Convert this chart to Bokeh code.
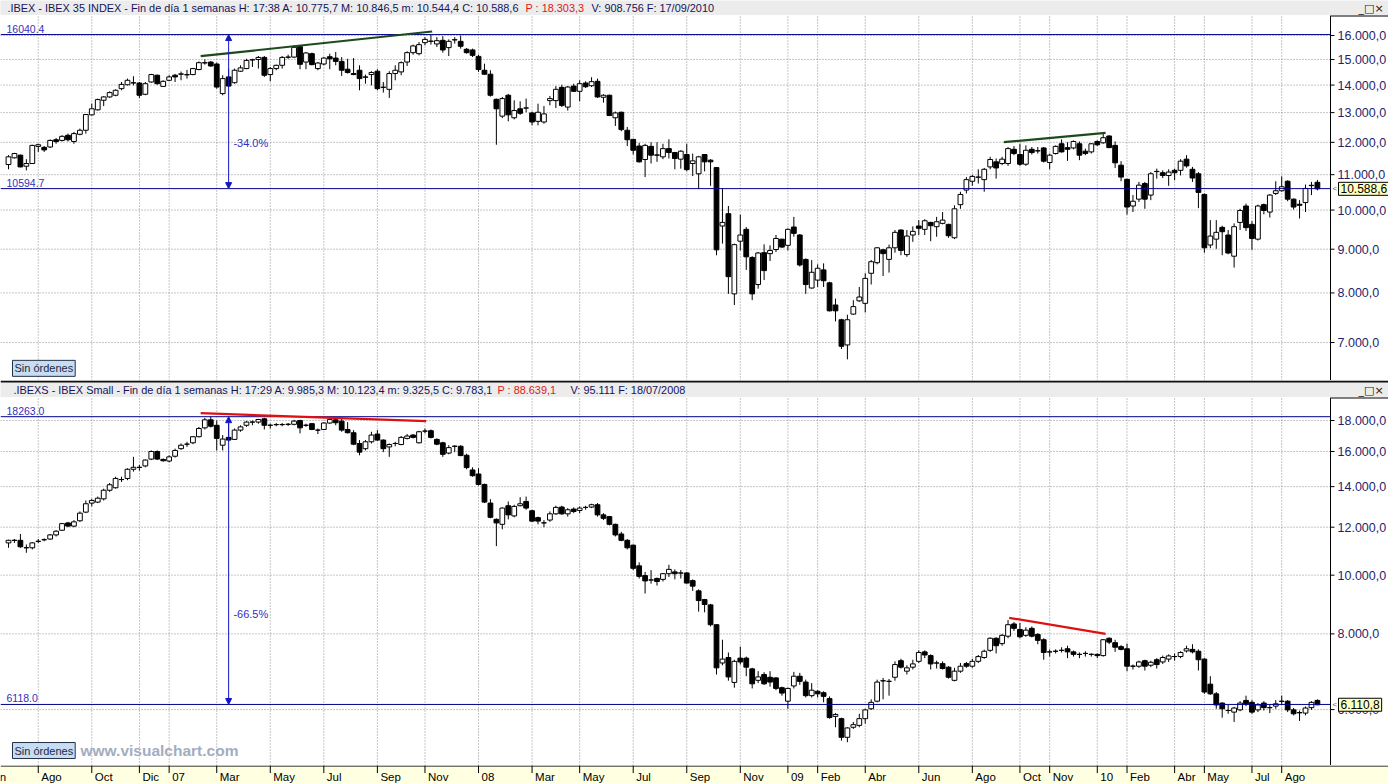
import numpy as np
import pandas as pd
from bokeh.plotting import figure
from bokeh.layouts import column
from bokeh.models import (Range1d, Span, Label, Arrow, NormalHead, ColumnDataSource, LogScale)
from bokeh.core.properties import value
from bokeh.embed import file_html
from bokeh.resources import INLINE

# ---------------------------------------------------------------- data
first_week = "2006-06-30"   # weekly candles (Friday closes) up to 17/09/2010

ibex_open = [11304,11510,11593,11253,11335,11871,11840,11851,12084,12062,
12230,12028,12263,12397,12922,13098,13440,13561,13622,13866,
14013,14078,14078,13658,14117,14377,13951,14182,14377,14415,
14390,14403,14598,14860,14896,14818,13683,14312,14091,14533,
14637,14980,15000,15083,14403,14637,14766,15090,15097,15528,
14896,15236,14637,14818,15111,15055,14922,14611,14442,14571,
14312,14403,14533,13915,13841,14442,14507,14896,15278,15236,
15694,15750,15639,15792,15486,15810,15750,15417,15389,15125,
14571,14415,13475,12877,13622,12821,13134,13159,12989,12698,
12676,13427,13427,13915,13195,13963,13768,14078,13976,14143,
13549,13622,12821,13012,12397,12095,11881,11458,11871,11600,
11541,11799,11675,11469,11613,11335,11026,11613,11438,11211,
9580,9903,7980,9196,9494,8802,8183,8916,8893,8992,
9247,9094,9554,9350,8756,8107,8282,8512,8221,7745,
7443,6955,7557,7832,7779,8435,8679,8985,8756,9034,
9477,8870,9350,9580,9494,9673,9562,9648,9622,9281,
10147,10553,10807,10925,10854,11232,11386,11335,11335,11778,
11613,11314,11778,11730,11820,11366,11644,11954,11830,11820,
11954,11717,11696,12028,11985,12207,11902,11284,10863,10110,
10298,10741,10412,11090,11057,10976,11129,11129,11469,11160,
11026,10430,9102,9247,9545,9350,8832,9673,10110,9622,
9247,10147,9946,10458,10534,10807,10298,10157,10204,10680,
10775.7]
ibex_high = [11593,11665,11613,11469,11923,11954,11881,12095,12140,12230,
12285,12340,12453,12955,13317,13500,13585,13768,13841,14117,
14247,14338,14117,14117,14429,14403,14182,14377,14429,14520,
14585,14663,14922,15000,14935,14870,14377,14637,14637,14766,
15028,15028,15140,15140,14700,14792,15140,15194,15583,15583,
15306,15278,14896,15097,15236,15306,15097,15028,15055,14766,
14403,14533,14611,14117,14533,14766,14922,15333,15611,15722,
15930,16040.4,15930,15972,15833,15930,16000,15472,15444,15194,
14831,14571,13500,13561,13671,13439,13402,13500,13037,13317,
13232,13598,13963,14013,13963,14052,14182,14143,14299,14247,
13658,13646,13037,13037,12508,12117,11985,11954,12005,12005,
11954,12100,11696,11747,11954,11644,11572,11613,11469,11232,
10600,10110,9136,9878,9554,8832,8931,9119,9094,9350,
9247,9520,9818,9375,8779,8741,8641,8664,8244,7879,
7463,7544,7846,8130,8435,8741,9051,9009,9111,9477,
9494,9477,9570,9733,9759,9690,9818,9946,9639,10129,
10506,10929,10995,11160,11201,11541,11490,11541,11851,11881,
11954,11902,11851,11851,11851,11644,11902,12095,12005,12062,
12028,11799,11975,12062,12319,12230,12028,11407,10882,10412,
10788,10788,11077,11180,11129,11160,11180,11469,11593,11232,
11077,10458,9733,9733,9588,9477,9648,10034,10176,9707,
10147,10176,10440,10807,10948,10835,10317,10270,10713,10788,
10846.5]
ibex_low = [11160,11490,11220,11129,11330,11696,11696,11820,11954,12028,
12028,11954,12230,12285,12900,13073,13232,13525,13585,13805,
13988,13988,13525,13622,14091,14013,13927,14143,14117,14182,
14247,14377,14571,14792,14700,13866,13622,13927,14052,14507,
14611,14700,14637,14312,14143,14571,14637,15028,15055,14611,
14611,14766,14571,14766,14611,14766,14351,14442,14377,13805,
14052,13988,13805,13720,13525,14182,14377,14740,15194,15167,
15583,15611,15514,15278,15139,15653,15444,15236,15097,14507,
14403,13573,11923,12810,12698,12765,12922,13012,12564,12564,
12620,13256,13159,13195,13073,13744,13402,13890,13927,13525,
13354,12877,12542,12363,11881,11613,11366,10929,11335,11386,
11469,11490,11160,11180,11098,10958,10581,11098,10675,8855,
9136,7980,7745,8970,8512,7846,8092,8282,8718,8931,
9034,8970,9307,8588,7980,8092,8130,8130,7611,7410,
6880,6690,7544,7812,7591,8183,8641,8374,8450,8916,
8855,8817,9179,9350,9350,9196,9307,9622,9281,9247,
10034,10458,10675,10741,10506,11160,10883,11284,11263,11593,
11263,11263,11613,11644,11366,11160,11613,11675,11417,11778,
11438,11593,11644,11881,11954,11820,11201,10807,9878,9946,
10222,10034,10270,10882,10901,10675,10835,10976,11211,10788,
10053,8916,9026,9009,8855,8878,8565,9477,9452,8985,
9213,9886,9801,10412,10506,10241,10016,9776,9946,10412,
10544.4]
ibex_close = [11541,11644,11232,11335,11902,11923,11758,12062,12028,12196,
12084,12285,12397,12933,13134,13464,13561,13720,13805,14026,
14182,14090,13622,14052,14403,14052,14143,14312,14312,14429,
14403,14637,14870,14870,14740,13927,14247,13963,14571,14663,
14961,14990,15083,14377,14637,14766,15083,15097,15500,14805,
15264,14792,14857,15055,15028,14922,14571,14481,14403,14247,
14300,14481,13866,13920,14442,14571,14870,15278,15556,15611,
15833,15760,15778,15389,15750,15820,15542,15278,15167,14598,
14415,13622,13134,13500,12922,13073,12978,13165,12676,13012,
12955,13500,13841,13256,13927,13768,14052,13939,14130,13561,
13622,12900,12989,12419,12084,11747,11386,11902,11593,11593,
11799,11675,11490,11717,11150,11417,11541,11386,11386,8985,
9673,8359,9111,9350,8817,7980,8908,8496,8970,9264,
9051,9494,9392,8626,8183,8458,8550,8267,7624,7624,
6930,7443,7711,7913,8320,8702,9034,8893,9034,9418,
8970,9324,9443,9520,9716,9588,9690,9733,9333,10034,
10430,10854,10948,10929,11160,11458,11201,11469,11799,11644,
11314,11747,11675,11727,11407,11593,11871,11696,11778,12028,
11593,11644,11954,11923,12151,11830,11356,10929,10082,10241,
10694,10298,11026,11098,10976,11077,11057,11407,11263,10901,
10487,9034,9324,9418,9434,8908,9562,9988,9537,9264,
10110,9988,10412,10534,10647,10298,10082,10129,10600,10690,
10588.6]

small_open = [11305,11410,11416,11100,11097,11370,11440,11472,11653,11861,
12197,12049,12296,12707,13151,13201,13365,13809,13941,14380,
14442,14955,15060,15145,15544,16000,15525,15430,15715,16172,
16450,16538,16925,17505,18046,17677,16387,16882,16753,17355,
17677,17890,17892,18115,17680,17720,17720,17742,17742,18000,
17680,17785,17355,17398,17828,18046,17957,17398,17183,16495,
16172,16602,17097,16710,16280,16495,16430,16817,17032,16538,
17290,17312,16753,16538,15905,16320,16323,15772,14917,14689,
14119,13151,12362,12131,13020,12526,13020,13234,12773,12444,
12200,12329,12625,12954,12625,12855,12789,12935,12954,13069,
12576,12493,12131,11694,11416,11208,10361,9985.3,9820,9875,
9841,10056,10125,10080,10084,9795,9421,9114,8932,8284,
7163,7313,6652,7295,7295,7004,6705,6855,6784,6767,
6520,6194,6564,6811,6661,6326,6432,6397,6256,5847,
5796,5400,5610,5650,5796,6018,6194,6690,6680,6784,
7225,6943,7049,7207,7471,7366,7160,7145,7049,6705,
6943,7145,7075,7207,7313,7515,7868,7709,7930,8307,
8136,7956,8170,7982,7824,7470,7488,7515,7560,7471,
7400,7427,7402,7401,7366,7868,7736,7621,7560,7078,
7075,7225,7101,7251,7190,7269,7340,7339,7498,7542,
7489,7269,6608,6370,6150,5980,5942,5993,6212,6167,
5993,6150,6045,6079,6190,6194,5993,5930,5920,6044,
6212]
small_high = [11444,11472,11694,11236,11333,11472,11500,11694,11861,12197,
12246,12329,12740,13283,13365,13481,13891,14195,14537,14537,
15012,15677,15202,15525,16065,16065,15582,15772,16172,16495,
16602,16968,17570,18184,18263,18000,17032,17785,17462,17677,
17957,18000,18115,18184,17785,17828,17828,17828,18046,18046,
17785,17828,17462,17892,18184,18184,18115,17892,17355,16710,
16710,17247,17355,16753,16495,16602,16968,17097,17097,17312,
17462,17398,16817,16602,16387,16387,16387,15867,15069,15012,
14157,13349,12411,12938,13234,13069,13447,13481,12822,12493,
12329,12740,13020,13020,12904,12938,12987,13020,13118,13151,
12658,12526,12164,11792,11472,11236,10499,10123.4,10194,9909,
10084,10403,10222,10194,10125,9841,9477,9137,8966,8284,
7824,7454,7251,7621,7339,7031,6943,6916,6943,6784,
6546,6520,6925,6899,6723,6635,6458,6432,6308,5920,
5818,5610,5725,5905,6018,6238,6723,6767,6740,7207,
7278,7101,7251,7515,7515,7401,7225,7207,7075,7031,
7163,7190,7278,7383,7533,7894,7894,8000,8432,8364,
8341,8205,8228,8023,7868,7542,7542,7604,7648,7507,
7454,7489,7427,7427,7841,7894,7824,7665,7709,7119,
7225,7251,7225,7295,7366,7401,7427,7489,7648,7692,
7542,7295,6811,6414,6167,6106,6062,6194,6326,6220,
6150,6194,6106,6220,6326,6220,6035,5978,6071,6194,
6238]
small_low = [11097,11305,11097,10888,11027,11305,11375,11444,11583,11833,
12000,12000,12246,12658,12987,13151,13283,13727,13891,14252,
14347,14822,14879,15069,15487,15487,15392,15354,15639,16108,
16280,16452,16882,17398,17527,16065,16065,16602,16710,17247,
17570,17677,17785,17398,17462,17613,17613,17635,17677,17140,
17570,17355,17097,17355,17785,17677,17247,17140,16387,15772,
16065,16495,16667,15962,15677,16323,16387,16753,16817,16495,
17140,16817,16387,15677,15829,15962,15715,14955,14537,14062,
13151,12411,11166,11903,12362,12460,12987,12822,12246,12131,
12000,12246,12576,12576,12493,12658,12658,12822,12904,12493,
12329,12082,11583,11375,11027,10194,9875,9325.5,9682,9614,
9761,9932,9841,9875,9682,9421,8705,8682,8228,6855,
7101,6696,6520,7119,6811,6502,6635,6590,6546,6458,
6326,6018,6502,6590,6282,6282,6282,6167,5796,5610,
5333,5300,5575,5610,5686,5993,6167,6238,6326,6696,
7013,6855,6987,7163,7295,6987,7013,6987,6749,6679,
6899,7031,7031,7163,7278,7471,7427,7648,7868,8091,
7868,7912,7894,7692,7251,7339,7427,7454,7295,7339,
7295,7339,7339,7295,7339,7692,7471,7515,6943,6987,
7031,6960,7049,7013,7137,7190,7225,7295,7454,7427,
6960,6370,6344,6018,5818,5905,5725,5963,6079,5905,
5942,5978,5920,6018,6106,5942,5869,5747,5869,5993,
6100]
small_close = [11416,11420,11138,11097,11305,11375,11444,11653,11819,12164,
12049,12246,12658,13118,13283,13398,13809,14100,14442,14385,
14955,15069,15069,15487,16000,15544,15449,15677,16065,16387,
16452,16925,17462,18046,17613,16817,16774,16710,17355,17570,
17892,17892,18069,17677,17677,17720,17725,17742,17957,17505,
17677,17398,17355,17828,18069,17849,17355,17183,16452,15962,
16602,17032,16710,16172,16430,16495,16882,16968,16882,17247,
17290,16882,16452,15829,16237,16323,15753,15050,14594,14119,
13201,12460,12197,12904,12576,12987,13118,12904,12280,12280,
12197,12625,12938,12625,12822,12740,12904,12938,13069,12576,
12411,12131,11653,11416,11097,10263,9955,9783.1,9818,9761,
10056,10222,10056,10084,9705,9591,9080,8944,8284,7031,
7269,6793,7207,7190,7049,6617,6793,6617,6661,6502,
6388,6502,6811,6679,6326,6458,6370,6309,5820,5890,
5400,5595,5665,5796,5993,6167,6661,6696,6679,7119,
7049,7031,7137,7454,7383,7137,7163,7013,6784,6943,
7075,7075,7207,7339,7489,7868,7648,7956,8284,8170,
7912,8114,7930,7806,7454,7471,7489,7515,7471,7401,
7401,7427,7401,7366,7824,7753,7604,7542,7075,7075,
7190,7075,7181,7119,7313,7357,7339,7454,7560,7471,
7251,6414,6370,6106,6018,5978,6035,6150,6132,5942,
6106,6044,6044,6132,6194,5993,5905,5927,6035,6167,
6110.8]

month_ticks = [(2006, 6, "Jun"), (2006, 8, "Ago"), (2006, 10, "Oct"), (2006, 12, "Dic"),
               (2007, 1, "07"), (2007, 3, "Mar"), (2007, 5, "May"), (2007, 7, "Jul"),
               (2007, 9, "Sep"), (2007, 11, "Nov"), (2008, 1, "08"), (2008, 3, "Mar"),
               (2008, 5, "May"), (2008, 7, "Jul"), (2008, 9, "Sep"), (2008, 11, "Nov"),
               (2009, 1, "09"), (2009, 2, "Feb"), (2009, 4, "Abr"), (2009, 6, "Jun"),
               (2009, 8, "Ago"), (2009, 10, "Oct"), (2009, 11, "Nov"), (2010, 1, "10"),
               (2010, 2, "Feb"), (2010, 4, "Abr"), (2010, 5, "May"), (2010, 7, "Jul"),
               (2010, 8, "Ago")]

ibex_ticks = [7000, 8000, 9000, 10000, 11000, 12000, 13000, 14000, 15000, 16000]
small_ticks = [6000, 8000, 10000, 12000, 14000, 16000, 18000]

ibex_levels = [16040.4, 10594.7]
small_levels = [18263.0, 6118.0]
ibex_pct = "-34.0%"
small_pct = "-66.5%"
measure_week = 37

# trend lines: (week index, price) end points
green_lines = [([32.3, 71.2], [15133, 16173]), ([167.3, 184.4], [12006, 12312])]
red_lines = [([32.3, 70.2], [18506, 17952]), ([168.2, 184.4], [8503, 8001])]

hdr_top = [(7, ".IBEX - IBEX 35 INDEX - Fin de día 1 semanas H: 17:38 A: 10.775,7 M: 10.846,5 m: 10.544,4 C: 10.588,6", "#14145a"),
           (525, "P : 18.303,3", "#e01818"),
           (591, "V: 908.756 F: 17/09/2010", "#14145a")]
hdr_bot = [(13, ".IBEXS - IBEX Small - Fin de día 1 semanas H: 17:29 A: 9.985,3 M: 10.123,4 m: 9.325,5 C: 9.783,1", "#14145a"),
           (497, "P : 88.639,1", "#e01818"),
           (570, "V: 95.111 F: 18/07/2008", "#14145a")]

# ---------------------------------------------------------------- layout / style
FONT = "Liberation Sans"
W = 1388
RB = 58                      # width of the price scale strip on the right
H_HDR1, H_TOP, H_HDR2, H_BOT, H_AX = 15, 365, 17, 368, 18
X0, X1 = -1.345, 222.2       # visible candle window
TOP_RANGE = (6320, 16885)
BOT_RANGE = (4851, 19645)
GRID = "#8c8c8c"
HDR_BG = "#ececec"
AX_BG = "#ffffe1"
LEVEL_LINE = "#00008b"
LEVEL_TXT = "#3030c0"
AXIS_TXT = "#1f1f6b"

dates = pd.date_range(first_week, periods=len(ibex_close), freq="W-FRI")
idx = np.arange(len(dates))
tick_idx, tick_lbl = [], []
for (yy, mm, lab) in month_ticks:
    days = pd.date_range(f"{yy}-{mm:02d}-01", periods=7, freq="D")
    first_fri = days[days.weekday == 4][0]
    tick_idx.append(int((first_fri - dates[0]).days // 7))
    tick_lbl.append(lab)

px_per_idx = (W - RB) / (X1 - X0)
XR_END = X1 + RB / px_per_idx
xr = Range1d(X0, XR_END)


def es_num(v):
    s = f"{v:,.1f}"
    return s.replace(",", "X").replace(".", ",").replace("X", ".")


def bare(h, x_range, y_range, log=False):
    kw = dict(width=W, height=h, x_range=x_range, y_range=y_range,
              x_axis_location=None, y_axis_location=None, toolbar_location=None,
              output_backend="svg", min_border=0, min_border_left=0, min_border_right=0,
              min_border_top=0, min_border_bottom=0)
    if log:
        kw["y_axis_type"] = "log"
    f = figure(**kw)
    if log:
        f.y_scale = LogScale()
    f.center = []
    f.outline_line_color = None
    return f


def header(h, pieces, sep):
    f = bare(h, Range1d(0, W), Range1d(0, h))
    f.background_fill_color = HDR_BG
    f.border_fill_color = HDR_BG
    yc = (h - (2 if sep else 0)) / 2.0 - 0.3
    if sep:
        f.add_layout(Span(location=h - 1, dimension="width", line_color="#101010", line_width=2))
    for x, t, c in pieces:
        f.add_layout(Label(x=x, y=yc, text=t, text_color=c, text_font=FONT,
                           text_font_size="10.9px", text_baseline="middle"))
    f.add_layout(Label(x=W - 30, y=yc, text="_□×", text_color="#202020", text_font="DejaVu Sans",
                       text_font_size="11px", text_baseline="middle"))
    return f


def panel(h, yrng, o, hi, lo, c, yticks):
    p = bare(h, xr, Range1d(*yrng), log=True)
    p.background_fill_color = "white"
    p.border_fill_color = "white"
    n = len(yticks)
    vis = [t for t in tick_idx if t >= X0]
    m = len(vis)
    # dotted grid
    p.segment(x0=[X0] * n, y0=yticks, x1=[X1] * n, y1=yticks,
              line_color=GRID, line_dash="1 2", line_width=1)
    p.segment(x0=vis, y0=[yrng[0]] * m, x1=vis, y1=[yrng[1]] * m,
              line_color=GRID, line_dash="1 2", line_width=1)
    # price scale on the right
    p.segment(x0=[X1], y0=[yrng[0]], x1=[X1], y1=[yrng[1]], line_color="black", line_width=1)
    p.segment(x0=[X1], y0=[yrng[1]], x1=[XR_END], y1=[yrng[1]], line_color="black", line_width=2)
    p.segment(x0=[X1] * n, y0=yticks, x1=[X1 + 4 / px_per_idx] * n, y1=yticks,
              line_color="black", line_width=1)
    p.text(x=[X1] * n, y=yticks, text=[es_num(t) for t in yticks], x_offset=7,
           text_font=value(FONT), text_font_size=value("12.5px"), text_color=AXIS_TXT,
           text_baseline="middle", text_align="left")
    # candles
    top = [max(a, b) for a, b in zip(o, c)]
    bot = [min(a, b) for a, b in zip(o, c)]
    col = ["white" if b >= a else "black" for a, b in zip(o, c)]
    src = ColumnDataSource(dict(x=idx, o=o, h=hi, l=lo, c=c, top=top, bot=bot, col=col))
    p.segment(x0="x", y0="l", x1="x", y1="h", source=src, line_color="black", line_width=1)
    p.vbar(x="x", width=0.8, top="top", bottom="bot", source=src, fill_color="col",
           line_color="black", line_width=1)
    return p


def decorate(p, levels, pct, pct_y, lines, line_color, last, box_y, wm):
    p.segment(x0=[X0] * len(levels), y0=levels, x1=[X1] * len(levels), y1=levels,
              line_color=LEVEL_LINE, line_width=1)
    for lv in levels:
        p.add_layout(Label(x=X0 + 6 / px_per_idx, y=lv, y_offset=2, text=f"{lv:.1f}",
                           text_color=LEVEL_TXT, text_font=FONT, text_font_size="10.5px",
                           text_baseline="bottom"))
    p.add_layout(Arrow(x_start=measure_week, y_start=levels[1], x_end=measure_week, y_end=levels[0],
                       line_color="#1414c8", line_width=1,
                       start=NormalHead(size=6, fill_color="#1414c8", line_color="#1414c8"),
                       end=NormalHead(size=6, fill_color="#1414c8", line_color="#1414c8")))
    p.add_layout(Label(x=measure_week + 0.8, y=pct_y, text=pct, text_color=LEVEL_TXT,
                       text_font=FONT, text_font_size="11px", text_baseline="middle"))
    for xs, ys in lines:
        p.line(xs, ys, line_color=line_color, line_width=2.2)
    p.add_layout(Label(x=X1, y=last, x_offset=2, text="<", text_color="#606060",
                       text_font=FONT, text_font_size="8px", text_baseline="middle"))
    p.add_layout(Label(x=X1, y=last, x_offset=8, text=es_num(last), text_color="black",
                       text_font=FONT, text_font_size="12px", text_baseline="middle",
                       background_fill_color="#ffffc0", border_line_color="black",
                       border_line_width=1, padding=2))
    p.add_layout(Label(x=X0 + 12 / px_per_idx, y=box_y, text="Sin órdenes", text_color="#1a2a44",
                       text_font=FONT, text_font_size="11px", text_baseline="middle",
                       background_fill_color="#c8dcf2", border_line_color="#22324a",
                       border_line_width=1, padding=2))
    if wm:
        p.add_layout(Label(x=X0 + 80 / px_per_idx, y=box_y, text="www.visualchart.com",
                           text_color="#a3adbf", text_font=FONT, text_font_style="bold",
                           text_font_size="15.5px", text_baseline="middle"))


h1 = header(H_HDR1, hdr_top, False)
p1 = panel(H_TOP, TOP_RANGE, ibex_open, ibex_high, ibex_low, ibex_close, ibex_ticks)
decorate(p1, ibex_levels, ibex_pct, 11980, green_lines, "#1d4a1d", ibex_close[-1], 6530, False)

h2 = header(H_HDR2, hdr_bot, True)
p2 = panel(H_BOT, BOT_RANGE, small_open, small_high, small_low, small_close, small_ticks)
decorate(p2, small_levels, small_pct, 8644, red_lines, "#e01010", small_close[-1], 5135, True)

# bottom month strip
axf = bare(H_AX, xr, Range1d(0, 1))
axf.background_fill_color = AX_BG
axf.border_fill_color = AX_BG
axf.add_layout(Span(location=0.97, dimension="width", line_color="black", line_width=1))
tsrc = ColumnDataSource(dict(x=tick_idx, t=tick_lbl, y0=[1.0] * len(tick_idx),
                             y1=[0.58] * len(tick_idx), ym=[0.36] * len(tick_idx)))
axf.segment(x0="x", y0="y0", x1="x", y1="y1", source=tsrc, line_color="black", line_width=1)
axf.text(x="x", y="ym", text="t", source=tsrc, text_font=value(FONT),
         text_font_size=value("11.5px"), text_align="left", text_baseline="middle",
         x_offset=3, text_color="black")

layout = column(h1, p1, h2, p2, axf, spacing=0)
open("out.html", "w").write(file_html(layout, INLINE))
